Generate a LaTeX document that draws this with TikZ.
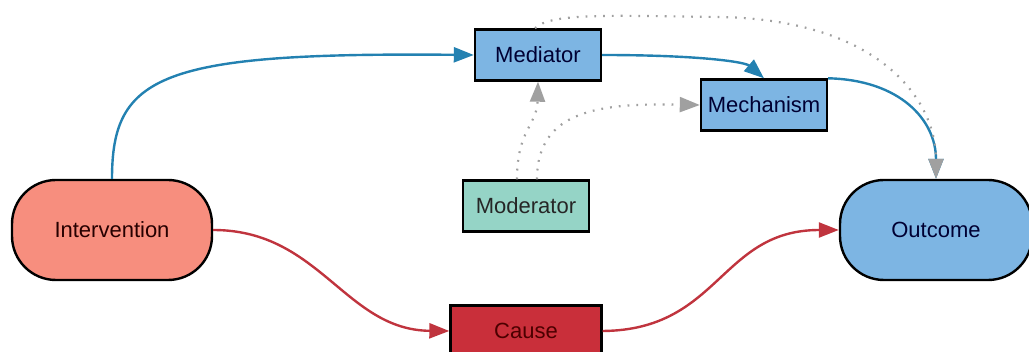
\documentclass[tikz,border=0pt]{standalone}
\usepackage{fontspec}
\setmainfont{Liberation Sans}
\usetikzlibrary{arrows.meta}
\definecolor{salmon}{HTML}{F78E7E}
\definecolor{skyfill}{HTML}{7DB5E3}
\definecolor{mint}{HTML}{95D4C6}
\definecolor{brick}{HTML}{C92F3A}
\definecolor{blueline}{HTML}{2381B1}
\definecolor{redline}{HTML}{C0343E}
\definecolor{dotgrey}{HTML}{A0A0A0}
\tikzset{
  box/.style={draw=black, line width=2.4pt, inner sep=0pt, font=\fontsize{22}{25}\selectfont},
  pill/.style={box, rounded corners=44pt, minimum width=200pt, minimum height=100pt},
  rect/.style={box, minimum width=126pt, minimum height=51pt},
  bluearrow/.style={draw=blueline, line width=2.4pt, -{Triangle[length=20pt,width=15pt]}},
  redarrow/.style={draw=redline, line width=2.4pt, -{Triangle[length=20pt,width=15pt]}},
  dotarrow/.style={draw=dotgrey, line width=2.2pt, dash pattern=on 1.8pt off 7pt,
    -{Triangle[length=20pt,width=15pt,fill=dotgrey,sep=0pt]}},
}
\begin{document}
\begin{tikzpicture}[x=1pt, y=-1pt]
  \useasboundingbox (0,0) rectangle (1029,352);
  \begin{scope}
    \clip (0,0) rectangle (1029,352);

    % nodes
    \node[pill, fill=salmon, text=black!85!red] (iv) at (112,230) {Intervention};
    \node[pill, fill=skyfill, minimum width=192pt, text=black!80!blue] (out) at (936,230) {Outcome};
    \node[rect, fill=skyfill, text=black!80!blue] (med) at (538,55) {Mediator};
    \node[rect, fill=skyfill, text=black!80!blue] (mech) at (764,105) {Mechanism};
    \node[rect, fill=mint, text=black!85] (mod) at (526,206) {Moderator};
    \node[rect, fill=brick, minimum width=151pt, text=black!70!red] (cause) at (526,331) {Cause};

    % causal path through the mediator
    \draw[bluearrow] (iv.north) .. controls (112,75) and (160,52) .. (med.west);
    \draw[bluearrow] (med.east) .. controls (700,55) and (745,62) .. (mech.north);
    \draw[bluearrow] (mech.north east) .. controls (900,80) and (936,120) .. (out.north);

    % direct causal path
    \draw[redarrow] (iv.east) .. controls (320,230) and (345,330) .. (cause.west);
    \draw[redarrow] (cause.east) .. controls (720,330) and (720,230) .. (out.west);

    % moderating influences
    \draw[dotarrow] ([xshift=-9pt]mod.north) .. controls (517,130) and (537,125) .. (med.south);
    \draw[dotarrow] ([xshift=11pt]mod.north) .. controls (537,110) and (600,103) .. (mech.west);
    \draw[dotarrow] ([xshift=-3pt]med.north) .. controls (550,12) and (620,16) .. (720,17)
      .. controls (880,20) and (936,100) .. (out.north);
  \end{scope}
\end{tikzpicture}
\end{document}
